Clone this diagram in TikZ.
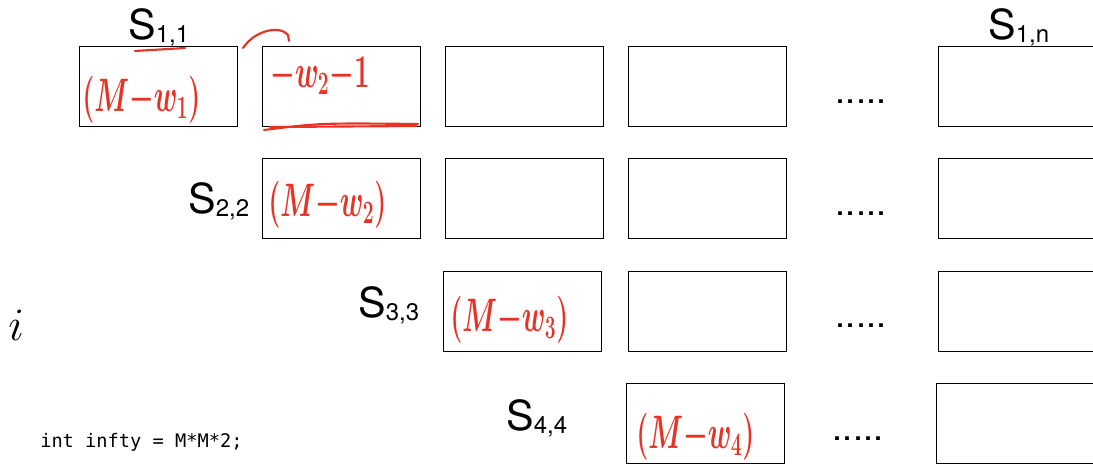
\documentclass[tikz,border=0pt]{standalone}
\usepackage{fontspec}
\setmainfont{TeX Gyre Heros}
\setmonofont{DejaVu Sans Mono}
\usepackage{xcolor}
\usepackage{tikz}
\definecolor{pen}{RGB}{232,50,36}
\newcommand{\slab}[1]{S\raisebox{-2.5pt}{\fontsize{18}{18}\selectfont #1}}
\newcommand{\hand}[1]{\scalebox{1}[1.7]{#1}}

\begin{document}
\begin{tikzpicture}[
  x=0.75pt, y=-0.75pt,
  cell/.style={draw, line width=0.6pt, minimum width=118.5pt, minimum height=60pt, inner sep=0pt},
  lab/.style={font=\fontsize{31}{31}\selectfont, inner sep=0pt, anchor=base west},
  dots/.style={font=\fontsize{27}{27}\selectfont, inner sep=0pt, anchor=base},
  ink/.style={text=pen, font=\fontsize{22}{22}\selectfont\boldmath, inner sep=0pt, anchor=west},
  stroke/.style={draw=pen, line width=1.6pt, line cap=round},
]
\clip (0,0) rectangle (1093,464);

% row 1
\node[cell] (c11) at (158,86) {};
\node[cell] (c12) at (341,86) {};
\node[cell] (c13) at (524,86) {};
\node[cell] (c14) at (707,86) {};
\node[dots] (d1) at (861,103) {.....};
\node[cell] (c1n) at (1017,86) {};
\node[lab] (s11) at (128,39) {\slab{1,1}};
\node[lab] (s1n) at (988,39) {\slab{1,n}};

% row 2
\node[cell] (c22) at (341,198) {};
\node[cell] (c23) at (524,198) {};
\node[cell] (c24) at (707,198) {};
\node[dots] (d2) at (861,215) {.....};
\node[cell] (c2n) at (1017,198) {};
\node[lab] (s22) at (188,213) {\slab{2,2}};

% row 3
\node[cell] (c33) at (522,311) {};
\node[cell] (c34) at (707,311) {};
\node[dots] (d3) at (861,327) {.....};
\node[cell] (c3n) at (1017,311) {};
\node[lab] (s33) at (358,317) {\slab{3,3}};

% row 4
\node[cell] (c44) at (705,423) {};
\node[dots] (d4) at (858,440) {.....};
\node[cell] (c4n) at (1015,423) {};
\node[lab] (s44) at (506,430) {\slab{4,4}};

\node[font=\fontsize{24}{24}\selectfont, scale=1.4, anchor=base west, inner sep=0pt] (idx) at (8,340) {$i$};
\node[font=\ttfamily\fontsize{14}{14}\selectfont, anchor=base west, inner sep=0pt] (code) at (40,447)
  {int infty = M*M*2;};

% red notes
\node[ink] (n11) at (82,100) {\hand{$(M{-}w_1)$}};
\node[ink] (n12) at (270,76) {\hand{${-}w_2{-}1$}};
\node[ink] (n22) at (268,205) {\hand{$(M{-}w_2)$}};
\node[ink] (n33) at (450,320) {\hand{$(M{-}w_3)$}};
\node[ink] (n44) at (636,437) {\hand{$(M{-}w_4)$}};
\draw[stroke] (135,51) -- (185,48);
\draw[stroke] (243,48) .. controls (255,30) and (280,25) .. (288,35) -- (289,41);
\draw[stroke] (264,130) .. controls (320,123) .. (418,124);
\draw[stroke] (270,127) -- (416,126);

\end{tikzpicture}
\end{document}
